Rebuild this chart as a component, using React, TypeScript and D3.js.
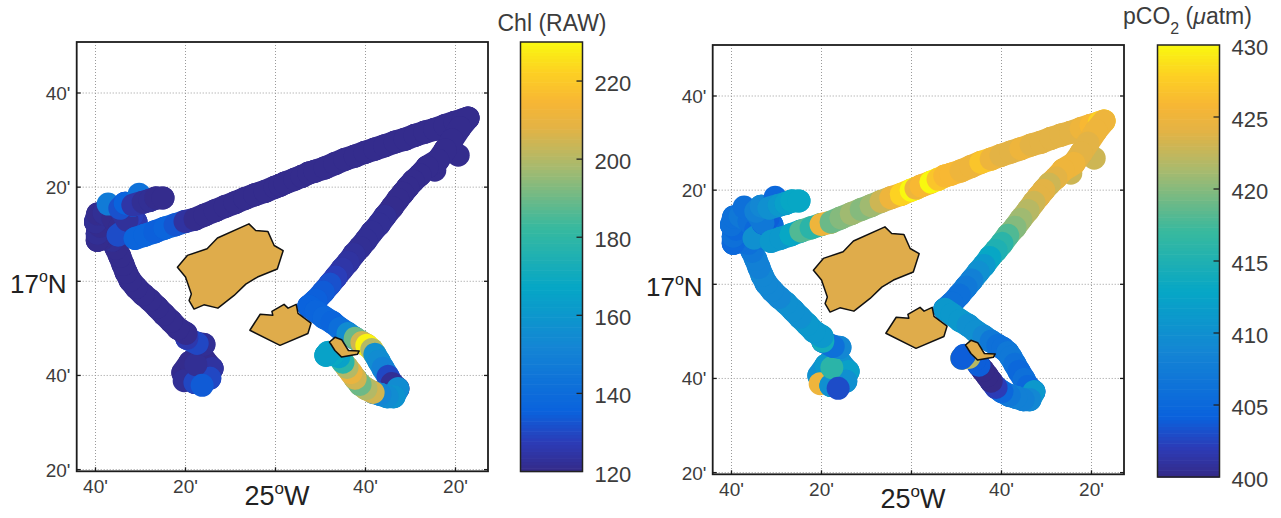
import React from "react";
import * as d3 from "d3";

// Track positions in arc-minutes relative to 25°W (east positive) and 17°N (north positive)
const trackLon = [
  -20.6,-19.0,-15.7,-14.1,-20.3,-17.9,-14.6,-17.7,-16.3,
  -15.9,-17.4,-19.7,-19.9,-21.7,-23.2,-24.8,-26.3,-27.9,-29.4,-31.0,-32.3,-33.2,-33.9,-34.6,-35.4,-36.3,
  -38.3,-39.6,-39.6,-39.0,-40.0,-39.5,-38.1,-36.1,-34.6,-32.8,-35.0,-31.0,-31.9,-33.0,-34.6,-37.2,-33.4,-31.7,-30.3,-29.4,-27.9,-26.6,-25.0,
  -31.2,-29.0,-26.8,-24.6,-22.3,-20.1,-17.9,-15.7,-13.4,-11.2,-9.0,-6.8,-4.6,-2.3,-0.1,1.0,2.1,4.3,5.9,7.4,8.8,11.0,13.2,15.4,17.7,19.9,22.1,24.3,26.6,28.8,31.0,33.2,35.4,37.7,39.9,41.7,42.8,
  41.0,39.2,40.6,37.7,36.1,35.4,33.7,32.1,30.6,29.4,28.3,27.2,25.9,24.3,23.0,21.4,20.1,18.8,17.4,16.1,14.8,13.4,12.1,10.6,9.0,7.4,
  9.0,10.8,12.6,14.3,16.1,17.7,19.2,20.3,21.4,22.1,23.0,23.9,25.0,25.9,27.2,26.3,24.8,23.2,21.7,20.1,18.8,17.7,16.8,15.9,15.0,14.1,12.8,11.2,11.7,
];
const trackLat = [
  -19.4,-17.2,-16.8,-18.5,-21.1,-21.5,-20.6,-17.7,-22.1,
  -13.4,-13.2,-12.1,-11.1,-10.0,-8.5,-7.0,-5.5,-4.0,-2.8,-1.3,0.2,1.9,3.6,5.3,7.0,8.7,
  9.1,8.7,10.2,11.7,12.6,14.3,14.5,13.4,11.5,9.8,9.8,12.6,14.0,13.0,15.5,16.4,16.6,16.2,18.5,16.8,17.2,17.7,17.7,
  9.1,9.8,10.5,11.3,12.0,12.7,13.2,14.1,15.0,15.9,16.7,17.6,18.4,19.1,20.0,20.4,20.9,21.7,22.3,23.0,23.4,24.1,25.0,25.9,26.6,27.4,28.1,28.8,29.6,30.2,31.0,31.7,32.3,33.1,33.8,34.3,34.7,
  32.6,30.0,26.8,27.9,25.7,23.6,24.3,22.6,21.3,20.0,18.7,17.4,15.7,13.8,12.1,10.4,8.7,7.2,5.7,4.0,2.6,0.9,-0.6,-2.3,-4.0,-5.3,
  -6.4,-7.7,-8.7,-10.0,-11.1,-12.1,-13.0,-13.6,-14.5,-15.5,-17.0,-18.5,-20.2,-21.7,-22.8,-24.5,-24.5,-24.0,-23.6,-22.8,-21.9,-20.6,-19.4,-18.3,-17.2,-16.0,-15.5,-15.7,-15.1,
];
const chlValues = [
  121,121,121,121,122,124,130,122,134,
  122,122,130,126,121,121,121,121,121,121,121,121,121,121,121,121,121,
  122,121,121,122,121,122,121,122,121,121,121,131,126,128,123,147,132,136,143,125,122,122,121,
  133,137,137,135,137,133,124,121,121,121,121,121,121,121,121,121,121,121,121,121,121,121,121,121,121,121,121,121,121,121,121,121,121,121,121,121,121,
  121,121,121,121,121,121,121,121,121,121,121,121,121,121,122,122,122,122,122,123,124,125,128,132,134,135,
  136,137,138,137,141,155,190,205,229,200,157,155,150,130,122,155,158,155,152,205,200,190,205,210,200,178,165,168,165,
];
const pco2Values = [
  410,410,411,410,425,412,410,416,403,
  409,409,406,414,411,411,411,410,410,410,409,409,409,409,408,408,407,
  406,406,405,406,405,406,406,407,406,405,406,410,405,404,407,406,408,409,405,410,411,412,413,
  410,411,411,413,418,416,425,419,420,421,420,421,423,425,428,430,425,426,430,427,426,426,425,425,427,425,424,424,425,424,424,424,424,424,425,426,428,
  425,425,423,424,424,423,425,425,424,423,424,424,423,422,421,420,418,416,415,413,411,410,408,407,406,406,
  411,411,411,410,410,409,407,406,406,407,407,406,405,406,405,411,409,408,408,407,405,402,400,400,400,404,404,422,404,
];
// Samples that stand alone as single markers, and samples that start a new run of the track
const isolatedSamples = [4, 7, 8, 41, 44, 88, 91];
const trackBreaks = [9, 49];

// Island outlines, same coordinates
const island1Lon = [-21.8,-19.6,-15.2,-12.9,-5.9,-4.4,-1.7,-0.3,1.7,0.4,-4.0,-6.6,-9.2,-12.8,-15.9,-18.1,-19.2,-18.7,-20.0];
const island1Lat = [3.0,5.5,6.9,9.2,12.2,10.8,10.6,7.6,6.5,2.6,0.9,-0.6,-3.0,-5.7,-5.0,-5.9,-4.1,-2.7,0.9];
const island2Lon = [-5.7,-3.4,-0.6,-0.8,1.9,2.8,4.6,5.0,7.9,7.2,1.0];
const island2Lat = [-10.4,-7.0,-7.2,-6.4,-4.9,-5.7,-4.9,-6.8,-8.9,-11.1,-13.6];
const island3Lon = [12.0,13.2,14.7,16.2,18.6,18.2,14.7,13.2];
const island3Lat = [-12.9,-11.9,-12.4,-14.7,-14.8,-15.5,-16.1,-14.7];

const xTickValues = [-40, -20, 0, 20, 40];
const xTickLabels = ["40'", "20'", "", "40'", "20'"];
const yTickValues = [40, 20, 0, -20, -40];
const yTickLabels = ["40'", "20'", "", "40'", "20'"];
const chlTicks = [120, 140, 160, 180, 200, 220];
const pco2Ticks = [400, 405, 410, 415, 420, 425, 430];

const parulaStops = [0, 0.07, 0.14, 0.29, 0.43, 0.57, 0.71, 0.8, 0.86, 0.93, 1];
const parulaColors = ["#352a87", "#2b3cb8", "#0a62dd", "#1485d4", "#06a7c6", "#38b99e", "#a8ba6e", "#e3b345", "#f7b635", "#fdd023", "#f9f80f"];
const parula = d3.scaleLinear<string>().domain(parulaStops).range(parulaColors).interpolate(d3.interpolateRgb);

const FONT = "'Liberation Sans', Arial, sans-serif";
const TEXT = "#3c3c3c";
const MARKER_R = 11.5;

function islandPath(lon: number[], lat: number[], x: any, y: any) {
  const line = d3.line<number>().x((_, i) => x(lon[i])).y((_, i) => y(lat[i])).curve(d3.curveLinearClosed);
  return line(lon as any) as string;
}

function Panel({ offsetX, offsetY, values, domain, ticks, barRight, barBottom, title }: any) {
  const x = d3.scaleLinear().domain([-40, 40]).range([95.5 + offsetX, 455.5 + offsetX]);
  const y = d3.scaleLinear().domain([-40, 40]).range([469.6 + offsetY, 93 + offsetY]);
  const left = 76.7 + offsetX, right = 488 + offsetX, top = 42 + offsetY, bottom = 471.3 + offsetY;
  const color = (v: number) => parula((v - domain[0]) / (domain[1] - domain[0]));
  const barL = barRight - 62;
  const barY = d3.scaleLinear().domain(domain).range([barBottom, top]);
  const levels = d3.range(0, 128);
  const lvl = d3.scaleLinear().domain([0, 128]).range(domain);
  let prev = -1;
  const marks = trackLon.map((lon, i) => {
    const alone = isolatedSamples.includes(i);
    const from = !alone && !trackBreaks.includes(i) ? prev : -1;
    if (!alone) prev = i;
    return (
      <g key={i}>
        {from >= 0 && (
          <line x1={x(trackLon[from])} y1={y(trackLat[from])} x2={x(lon)} y2={y(trackLat[i])}
            stroke={color(values[i])} strokeWidth={MARKER_R * 2} strokeLinecap="round" />
        )}
        <circle cx={x(lon)} cy={y(trackLat[i])} r={MARKER_R} fill={color(values[i])} />
      </g>
    );
  });
  return (
    <g fontFamily={FONT} fill={TEXT}>
      <rect x={left} y={top} width={right - left} height={bottom - top} fill="#fff" />
      {xTickValues.map((t) => (
        <line key={"gx" + t} x1={x(t)} x2={x(t)} y1={top} y2={bottom} stroke="#9a9a9a" strokeWidth={1} strokeDasharray="1 2" />
      ))}
      {yTickValues.map((t) => (
        <line key={"gy" + t} x1={left} x2={right} y1={y(t)} y2={y(t)} stroke="#9a9a9a" strokeWidth={1} strokeDasharray="1 2" />
      ))}
      {marks}
      {[[island1Lon, island1Lat], [island2Lon, island2Lat], [island3Lon, island3Lat]].map(([a, b], i) => (
        <path key={i} d={islandPath(a, b, x, y)} fill="#dfac4b" stroke="#111" strokeWidth={1.5} strokeLinejoin="round" />
      ))}
      <rect x={left} y={top} width={right - left} height={bottom - top} fill="none" stroke="#1c1c1c" strokeWidth={1.8} />
      {xTickValues.map((t, i) => (
        <g key={"tx" + t}>
          <line x1={x(t)} x2={x(t)} y1={bottom} y2={bottom - 4} stroke="#1c1c1c" strokeWidth={1.3} />
          <text x={x(t)} y={492.7 + offsetY} textAnchor="middle" fontSize={19}>{xTickLabels[i]}</text>
        </g>
      ))}
      {yTickValues.map((t, i) => (
        <g key={"ty" + t}>
          <line x1={left} x2={left + 4} y1={y(t)} y2={y(t)} stroke="#1c1c1c" strokeWidth={1.3} />
          <line x1={right} x2={right - 4} y1={y(t)} y2={y(t)} stroke="#1c1c1c" strokeWidth={1.3} />
          <text x={70.5 + offsetX} y={y(t) + 7} textAnchor="end" fontSize={19}>{yTickLabels[i]}</text>
        </g>
      ))}
      <text x={x(0) + 1.5} y={505 + offsetY} textAnchor="middle" fontSize={27} fill="#222">
        25<tspan fontSize={17} dy={-11}>o</tspan><tspan dy={11}>W</tspan>
      </text>
      <text x={10 + offsetX} y={293 + offsetY} fontSize={26} fill="#222">
        17<tspan fontSize={16} dy={-11}>o</tspan><tspan dy={11}>N</tspan>
      </text>
      {levels.map((l) => (
        <rect key={l} x={barL} width={62} y={barY(lvl(l + 1))} height={barY(lvl(l)) - barY(lvl(l + 1)) + 0.6} fill={color(lvl(l + 0.5))} />
      ))}
      <rect x={barL} y={top} width={62} height={barBottom - top} fill="none" stroke="#222" strokeWidth={1.5} />
      {ticks.map((t: number) => (
        <g key={t}>
          {t !== domain[0] && t !== domain[1] && (
            <line x1={barRight - 6} x2={barRight} y1={barY(t)} y2={barY(t)} stroke="#222" strokeWidth={1.3} />
          )}
          <text x={barRight + 12} y={barY(t) + 10} fontSize={22}>{t}</text>
        </g>
      ))}
      {title}
    </g>
  );
}

export default function App() {
  return (
    <svg width={1281} height={518} style={{ position: "absolute", left: 0, top: 0, background: "#fff" }}>
      <Panel
        offsetX={0}
        offsetY={0}
        values={chlValues}
        domain={[120, 230]}
        ticks={chlTicks}
        barRight={582.5}
        barBottom={471.5}
        title={<text x={552} y={31} textAnchor="middle" fontSize={23}>Chl (RAW)</text>}
      />
      <Panel
        offsetX={636}
        offsetY={3}
        values={pco2Values}
        domain={[400, 430]}
        ticks={pco2Ticks}
        barRight={1219.5}
        barBottom={477}
        title={
          <text x={1123} y={24} fontSize={23}>
            pCO<tspan fontSize={16} dy={10}>2</tspan><tspan dy={-10}> (</tspan><tspan fontStyle="italic">μ</tspan>atm)
          </text>
        }
      />
    </svg>
  );
}
